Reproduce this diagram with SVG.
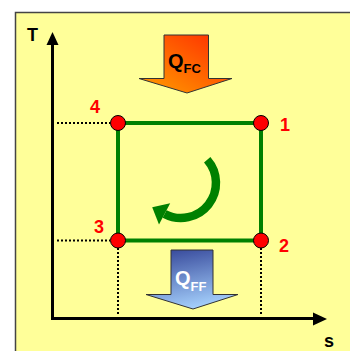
<svg xmlns="http://www.w3.org/2000/svg" width="350" height="351" viewBox="0 0 350 351">
<defs>
<linearGradient id="gFC" x1="1" y1="0" x2="0" y2="1">
<stop offset="0" stop-color="#ff2a00"/>
<stop offset="1" stop-color="#ffa000"/>
</linearGradient>
<linearGradient id="gFF" x1="0.3" y1="0" x2="0.6" y2="1">
<stop offset="0" stop-color="#3a4d9e"/>
<stop offset="1" stop-color="#a8d4ff"/>
</linearGradient>
<style>
.ax{stroke:#000;stroke-width:3;fill:none}
.dot{stroke:#000;stroke-width:2;stroke-dasharray:2 2;fill:none}
.pt{fill:#ff0000;stroke:#000;stroke-width:1}
.num{font-family:"Liberation Sans",Arial,sans-serif;font-weight:bold;font-size:18px;fill:#ff0000}
.lbl{font-family:"Liberation Sans",Arial,sans-serif;font-weight:bold;font-size:18px;fill:#000}
.q{font-family:"Liberation Sans",Arial,sans-serif;font-weight:bold;font-size:20px}
.sub{font-size:13px}
</style>
</defs>
<rect x="15.5" y="12.5" width="340" height="345" fill="#ffff99" stroke="#444" stroke-width="1.5"/>
<g id="axes">
<line class="ax" x1="52.5" y1="44" x2="52.5" y2="318.5"/>
<line class="ax" x1="51" y1="318.5" x2="314" y2="318.5"/>
<polygon points="52.5,32 46.5,45 58.5,45" fill="#000"/>
<polygon points="327,319 313,312.5 313,325.5" fill="#000"/>
<text class="lbl" x="27" y="41">T</text>
<text class="lbl" x="324" y="347">s</text>
</g>
<g id="connectors">
<line class="dot" x1="57" y1="123" x2="110" y2="123"/>
<line class="dot" x1="57" y1="240.5" x2="110" y2="240.5"/>
<line class="dot" x1="118" y1="248" x2="118" y2="315"/>
<line class="dot" x1="261" y1="248" x2="261" y2="315"/>
<rect x="118" y="123" width="143" height="117.5" fill="none" stroke="#008000" stroke-width="4"/>
</g>
<g id="cycle-arrow">
<path d="M207.2,159.8 A35,35 0 0 1 164.6,213.9" fill="none" stroke="#008000" stroke-width="8.5"/>
<polygon points="152.2,207.3 159,224.5 170.2,203.3" fill="#008000"/>
</g>
<g id="QFC">
<polygon points="164,35 208.5,35 208.5,78.5 232,78.5 187,93 139,78.5 164,78.5" fill="url(#gFC)" stroke="#333" stroke-width="1"/>
<text class="q" x="168" y="68" fill="#000">Q<tspan class="sub" dy="5">FC</tspan></text>
</g>
<g id="QFF">
<polygon points="171,250 213,250 213,294.5 238,294.5 193,309 146,294.5 171,294.5" fill="url(#gFF)" stroke="#333" stroke-width="1"/>
<text class="q" x="175" y="285" fill="#fff">Q<tspan class="sub" dy="6">FF</tspan></text>
</g>
<g id="p4"><circle class="pt" cx="118" cy="123" r="7.5"/><text class="num" x="90" y="113">4</text></g>
<g id="p1"><circle class="pt" cx="261" cy="123" r="7.5"/><text class="num" x="280" y="131">1</text></g>
<g id="p3"><circle class="pt" cx="118" cy="240.5" r="7.5"/><text class="num" x="94" y="233">3</text></g>
<g id="p2"><circle class="pt" cx="261" cy="240.5" r="7.5"/><text class="num" x="279" y="252">2</text></g>
</svg>
